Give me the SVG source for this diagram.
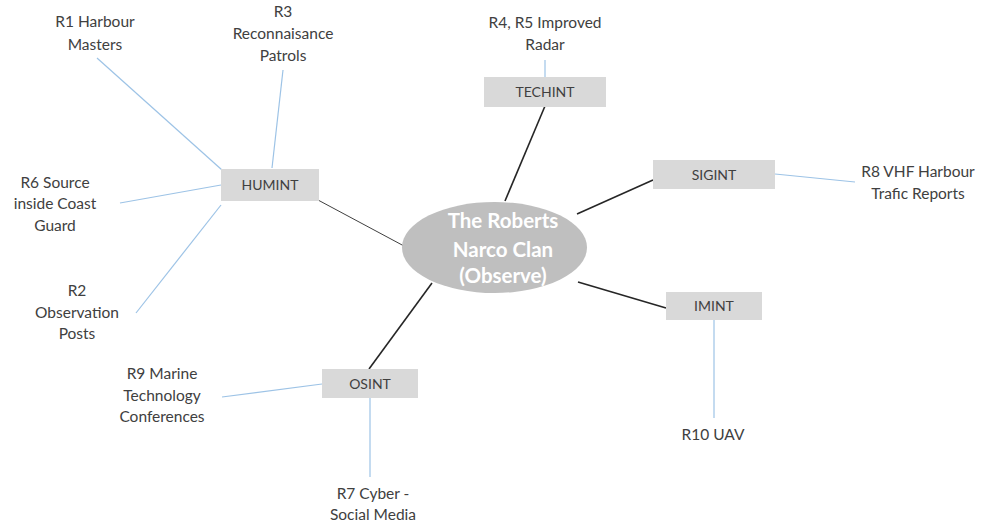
<svg xmlns="http://www.w3.org/2000/svg" width="981" height="522" viewBox="0 0 981 522">
  <style>
    .lbl { font-family: Lato, "Open Sans", "Liberation Sans", sans-serif; font-size: 15.5px; fill: #404040; text-anchor: middle; }
    .box { fill: #d9d9d9; }
    .boxtxt { font-family: Lato, "Open Sans", "Liberation Sans", sans-serif; font-size: 14px; fill: #404040; text-anchor: middle; }
    .hub { stroke: #262626; stroke-width: 1.6; fill: none; }
    .hub-thin { stroke: #404040; stroke-width: 1; fill: none; }
    .leaf { stroke: #9dc3e6; stroke-width: 1.2; fill: none; }
    .core { fill: #bfbfbf; }
    .coretxt { font-family: Lato, "Open Sans", "Liberation Sans", sans-serif; font-size: 20.5px; font-weight: bold; fill: #ffffff; text-anchor: middle; }
  </style>
  <rect width="981" height="522" fill="#ffffff"/>

  <g id="connectors">
    <!-- centre to disciplines -->
    <line class="hub-thin" x1="318" y1="200" x2="404" y2="246"/>
    <line class="hub" x1="545" y1="106" x2="505" y2="201"/>
    <line class="hub" x1="653" y1="180" x2="577" y2="214"/>
    <line class="hub" x1="666" y1="308" x2="578" y2="282"/>
    <line class="hub" x1="432" y1="283" x2="369" y2="369"/>
    <!-- disciplines to sources -->
    <line class="leaf" x1="97" y1="58" x2="222" y2="170"/>
    <line class="leaf" x1="283" y1="70" x2="272" y2="168"/>
    <line class="leaf" x1="120" y1="203" x2="221" y2="185"/>
    <line class="leaf" x1="136" y1="313" x2="221" y2="205"/>
    <line class="leaf" x1="545" y1="60" x2="545" y2="77"/>
    <line class="leaf" x1="775" y1="174" x2="855" y2="182"/>
    <line class="leaf" x1="714" y1="320" x2="714" y2="418"/>
    <line class="leaf" x1="222" y1="397" x2="322" y2="384"/>
    <line class="leaf" x1="370" y1="398" x2="370" y2="477"/>
  </g>

  <g id="core">
    <ellipse class="core" cx="494.5" cy="247.5" rx="92.5" ry="45.5"/>
    <text class="coretxt" x="503" y="228">The Roberts</text>
    <text class="coretxt" x="503" y="257">Narco Clan</text>
    <text class="coretxt" x="503" y="283">(Observe)</text>
  </g>

  <g id="humint">
    <rect class="box" x="221" y="169" width="98" height="32"/>
    <text class="boxtxt" x="270" y="190">HUMINT</text>
  </g>
  <g id="techint">
    <rect class="box" x="484" y="77" width="122" height="30"/>
    <text class="boxtxt" x="545" y="97">TECHINT</text>
  </g>
  <g id="sigint">
    <rect class="box" x="653" y="160" width="122" height="29"/>
    <text class="boxtxt" x="714" y="180">SIGINT</text>
  </g>
  <g id="imint">
    <rect class="box" x="666" y="292" width="96" height="28"/>
    <text class="boxtxt" x="714" y="311">IMINT</text>
  </g>
  <g id="osint">
    <rect class="box" x="322" y="369" width="96" height="29"/>
    <text class="boxtxt" x="370" y="389">OSINT</text>
  </g>

  <g id="r1">
    <text class="lbl" x="95" y="27">R1 Harbour</text>
    <text class="lbl" x="95" y="50">Masters</text>
  </g>
  <g id="r3">
    <text class="lbl" x="283" y="17">R3</text>
    <text class="lbl" x="283" y="39">Reconnaisance</text>
    <text class="lbl" x="283" y="61">Patrols</text>
  </g>
  <g id="r4r5">
    <text class="lbl" x="545" y="28">R4, R5 Improved</text>
    <text class="lbl" x="545" y="50">Radar</text>
  </g>
  <g id="r8">
    <text class="lbl" x="918" y="177">R8 VHF Harbour</text>
    <text class="lbl" x="918" y="199">Trafic Reports</text>
  </g>
  <g id="r10">
    <text class="lbl" x="713" y="440">R10 UAV</text>
  </g>
  <g id="r7">
    <text class="lbl" x="373" y="499">R7 Cyber -</text>
    <text class="lbl" x="373" y="520">Social Media</text>
  </g>
  <g id="r9">
    <text class="lbl" x="162" y="379">R9 Marine</text>
    <text class="lbl" x="162" y="401">Technology</text>
    <text class="lbl" x="162" y="422">Conferences</text>
  </g>
  <g id="r6">
    <text class="lbl" x="55" y="188">R6 Source</text>
    <text class="lbl" x="55" y="209">inside Coast</text>
    <text class="lbl" x="55" y="231">Guard</text>
  </g>
  <g id="r2">
    <text class="lbl" x="77" y="296">R2</text>
    <text class="lbl" x="77" y="318">Observation</text>
    <text class="lbl" x="77" y="339">Posts</text>
  </g>
</svg>
